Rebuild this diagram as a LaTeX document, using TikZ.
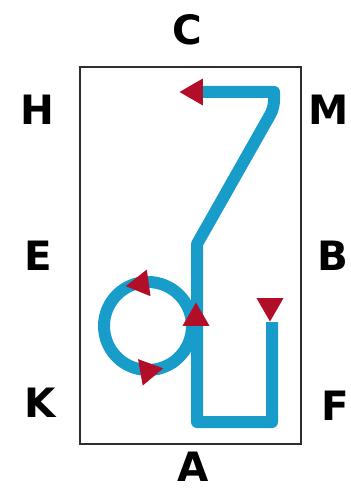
\documentclass[tikz,border=0pt]{standalone}
\usepackage{fontspec}
\setsansfont{DejaVu Sans}
\usetikzlibrary{shapes.geometric}
\definecolor{pipeblue}{RGB}{24,156,202}
\definecolor{flowred}{RGB}{178,14,40}
\definecolor{boxgray}{RGB}{45,45,45}
\begin{document}
\begin{tikzpicture}[
  x=0.2mm, y=-0.2mm,
  lbl/.style={font=\sffamily\bfseries\fontsize{23}{27}\selectfont, inner sep=0pt},
  pipe/.style={draw=pipeblue, line width=2.4mm, line join=round},
  tip/.style={regular polygon, regular polygon sides=3, fill=flowred, minimum size=6.2mm, inner sep=0pt}
]
  \useasboundingbox (0,0) rectangle (350,492);

  % Frame
  \draw[boxgray, line width=0.45mm] (80,67) rectangle (301,444);

  % Side letters
  \node[lbl] (labC) at (187,30) {C};
  \node[lbl] (labH) at (37,110) {H};
  \node[lbl, anchor=east] (labM) at (349,110) {M};
  \node[lbl] (labE) at (38,256) {E};
  \node[lbl, anchor=east] (labB) at (349,256) {B};
  \node[lbl] (labK) at (40,403) {K};
  \node[lbl, anchor=east] (labF) at (349,406) {F};
  \node[lbl] (labA) at (193,467) {A};

  % Pipe route
  \coordinate (p0) at (200,92);
  \coordinate (p1) at (274,92);
  \coordinate (p2) at (274,108);
  \coordinate (p3) at (197,244);
  \coordinate (p4) at (197,422);
  \coordinate (p5) at (272,422);
  \coordinate (p6) at (272,322);
  \draw[pipe] (p0) -- (p1) [rounded corners=1.5mm] -- (p2) [sharp corners] -- (p3) -- (p4) -- (p5) -- (p6);

  % Loop
  \coordinate (loop) at (148,326);
  \draw[pipe] (loop) circle (44);

  % Flow markers
  \node[tip, rotate=90] (f1) at (195,92) {};
  \node[tip, rotate=98] (f2) at (141,284) {};
  \node[tip] (f3) at (196,318) {};
  \node[tip, rotate=-80] (f4) at (148,371) {};
  \node[tip, rotate=180] (f5) at (270,306) {};
\end{tikzpicture}
\end{document}
